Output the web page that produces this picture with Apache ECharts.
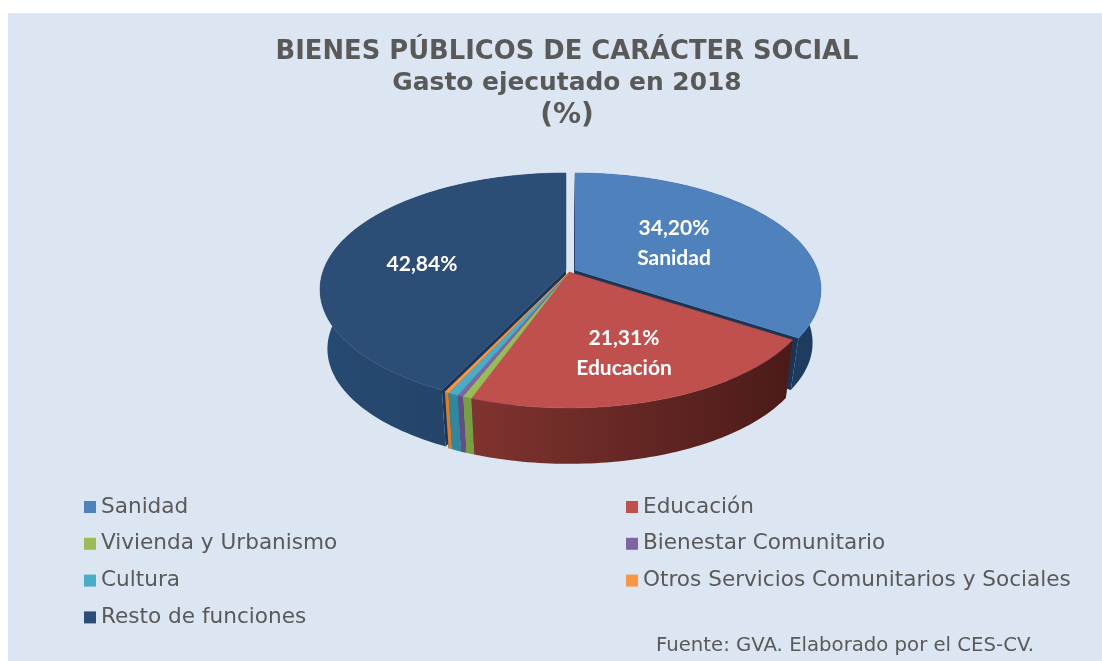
<!DOCTYPE html>
<html lang="es">
<head>
  <meta charset="UTF-8">
  <title>Bienes públicos de carácter social</title>
  <style>
    html, body { margin: 0; padding: 0; background: #fff; }
    #chart { width: 1102px; height: 661px; }
  </style>
</head>
<body>
  <div id="chart"></div>
  <script src="https://cdn.jsdelivr.net/npm/echarts@6/dist/echarts.min.js"></script>
  <script>
    // valores (%)
    const categories = ['Sanidad', 'Educación', 'Vivienda y Urbanismo', 'Bienestar Comunitario', 'Cultura', 'Otros Servicios Comunitarios y Sociales', 'Resto de funciones']
    const values = [34.20, 21.31, 0.52, 0.30, 0.60, 0.23, 42.84]
    const topColors = ['#4f81bd', '#c0504d', '#9bbb59', '#8064a2', '#4bacc6', '#f79646', '#2c4d75']
    const wallColors = [
      ['#1f3b5f', '#1f3b5f'], ['#80332f', '#4a1b19'], ['#7a9c44', '#7a9c44'], ['#644c85', '#644c85'],
      ['#34869e', '#34869e'], ['#d67f2e', '#d67f2e'], ['#274a72', '#213e62']
    ]
    const pieLabels = ['34,20%\nSanidad', '21,31%\nEducación', '', '', '', '', '42,84%']

    // geometria de la tarta en perspectiva
    const center = [569, 272]
    const A = 242.5, B = 113.2, P = 0.167
    const bottomScale = 0.97, bottomY = 332
    const explode = [[6, -2], [0, 0], [0, 0], [0, 0], [0, 0], [0, 0], [-3, -2]]
    const explodeBottom = [[5, -8], [0, 0], [0, 0], [0, 0], [0, 0], [0, 0], [-3, -2]]
    const labelPos = [[674, 243], [624, 353], null, null, null, null, [422, 264]]
    const wallOrder = [1, 2, 3, 4, 5, 6, 0]

    const total = values.reduce((a, b) => a + b, 0)
    function startAngle(i) {
      let s = 0
      for (let k = 0; k < i; k++) s += values[k]
      return s / total * Math.PI * 2
    }
    function project(t, level, off) {
      const X = Math.sin(t), Y = -Math.cos(t), w = 1 - P * Y
      if (level === 0) return [center[0] + off[0] + A * X / w, center[1] + off[1] + B * Y / w]
      return [center[0] + off[0] + A * bottomScale * X / w, bottomY + off[1] + B * bottomScale * Y / w]
    }
    function arc(a0, a1, level, off) {
      const n = Math.max(2, Math.ceil((a1 - a0) / 0.02))
      const pts = []
      for (let j = 0; j <= n; j++) pts.push(project(a0 + (a1 - a0) * j / n, level, off))
      return pts
    }

    function renderSlice(i) {
      return function () {
        const a0 = startAngle(i), a1 = a0 + values[i] / total * Math.PI * 2
        const off = explode[i], offB = explodeBottom[i]
        const tip = [center[0] + off[0], center[1] + off[1]]
        const tipBottom = [center[0] + offB[0], bottomY + offB[1]]
        const top = arc(a0, a1, 0, off)
        const bottom = arc(a0, a1, 1, offB)
        const xs = top.concat(bottom).map(p => p[0])
        const wallFill = new echarts.graphic.LinearGradient(Math.min(...xs), 0, Math.max(...xs), 0, [
          { offset: 0, color: wallColors[i][0] },
          { offset: 1, color: wallColors[i][1] }
        ], true)
        const z = wallOrder[i]
        const cutStyle = { fill: '#1c3555' }
        const children = [
          {
            type: 'polygon', z2: 10 + z,
            shape: { points: [project(a0, 0, off), project(a0, 1, offB), tipBottom, tip] },
            style: cutStyle
          },
          {
            type: 'polygon', z2: 10 + z,
            shape: { points: [project(a1, 0, off), project(a1, 1, offB), tipBottom, tip] },
            style: cutStyle
          },
          {
            type: 'polygon', z2: 20 + z,
            shape: { points: top.concat(bottom.slice().reverse()) },
            style: { fill: wallFill }
          },
          {
            type: 'polygon', z2: 40 + z,
            shape: { points: [tip].concat(top) },
            style: { fill: topColors[i], stroke: topColors[i], lineWidth: 0.5 }
          }
        ]
        if (pieLabels[i]) {
          children.push({
            type: 'text', z2: 60,
            x: labelPos[i][0], y: labelPos[i][1],
            style: {
              text: pieLabels[i], fill: '#fff', font: 'bold 21px Lato',
              lineHeight: 30, align: 'center', verticalAlign: 'middle'
            }
          })
        }
        return { type: 'group', children: children }
      }
    }

    const legendText = { color: '#595959', fontFamily: 'DejaVu Sans', fontSize: 21.6 }
    const titleLine = { color: '#595959', fontFamily: 'DejaVu Sans', fontWeight: 'bold', lineHeight: 32 }
    const option = {
      backgroundColor: '#fff',
      animation: false,
      graphic: [{
        type: 'rect', z: -10, silent: true,
        shape: { x: 8, y: 13, width: 1094, height: 648 },
        style: { fill: '#dce6f2' }
      }],
      title: [
        {
          text: '{a|BIENES PÚBLICOS DE CARÁCTER SOCIAL}\n{b|Gasto ejecutado en 2018}\n{c|(%)}',
          left: 567, top: 36, padding: 0, textAlign: 'center',
          textStyle: {
            rich: {
              a: Object.assign({ fontSize: 25.8 }, titleLine),
              b: Object.assign({ fontSize: 24.9 }, titleLine),
              c: Object.assign({ fontSize: 28 }, titleLine)
            }
          }
        },
        {
          text: 'Fuente: GVA. Elaborado por el CES-CV.',
          left: 656, top: 636, padding: 0,
          textStyle: { color: '#595959', fontFamily: 'DejaVu Sans', fontWeight: 'normal', fontSize: 19.7 }
        }
      ],
      legend: [
        {
          data: [categories[0], categories[2], categories[4], categories[6]],
          orient: 'vertical', left: 84, top: 496, icon: 'rect', itemWidth: 12, itemHeight: 12, itemGap: 14.8,
          textStyle: legendText, selectedMode: false, padding: 0
        },
        {
          data: [categories[1], categories[3], categories[5]],
          orient: 'vertical', left: 626, top: 496, icon: 'rect', itemWidth: 12, itemHeight: 12, itemGap: 14.8,
          textStyle: legendText, selectedMode: false, padding: 0
        }
      ],
      series: categories.map((name, i) => ({
        type: 'custom',
        name: name,
        coordinateSystem: 'none',
        silent: true,
        itemStyle: { color: topColors[i] },
        data: [values[i]],
        renderItem: renderSlice(i)
      }))
    }

    const chart = echarts.init(document.querySelector('#chart'))
    chart.setOption(option)
  </script>
</body>
</html>
